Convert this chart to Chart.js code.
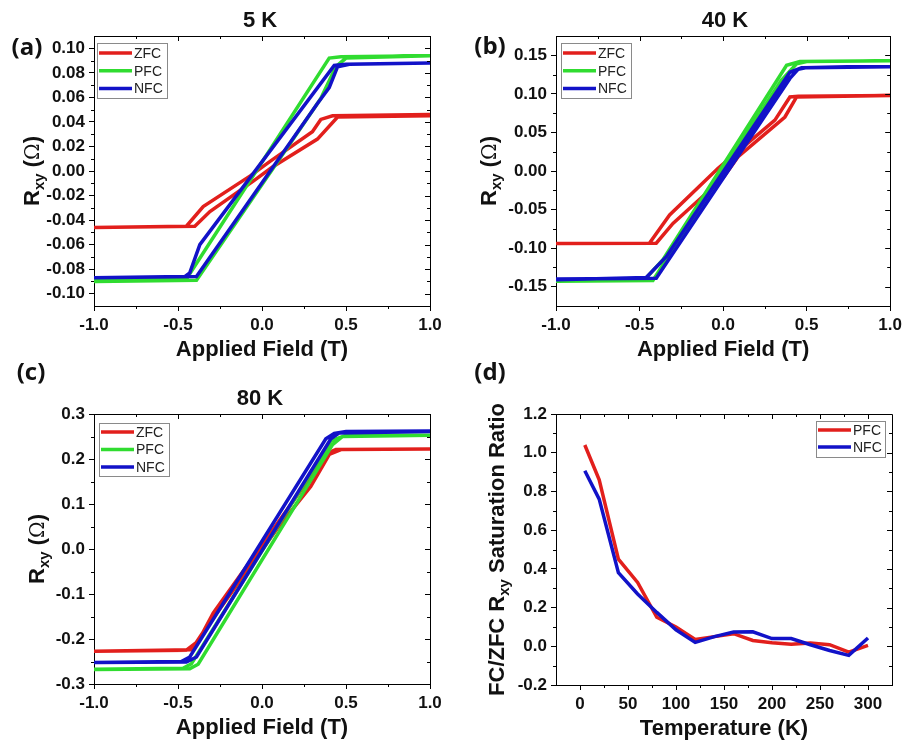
<!DOCTYPE html>
<html>
<head>
<meta charset="utf-8">
<title>Rxy hysteresis loops</title>
<script src="https://cdn.jsdelivr.net/npm/chart.js@4.4.1/dist/chart.umd.min.js"></script>
<style>
  body { margin: 0; background: #fff; }
  #wrap { position: relative; width: 906px; height: 742px; overflow: hidden; }
  .panel { position: absolute; width: 453px; height: 371px; }
  .letter { position: absolute; font: bold 24px "Open Sans", "Liberation Sans", sans-serif; color: #111; line-height: 1; transform: translate(-50%, -50%); }
</style>
</head>
<body>
<div id="wrap">
  <div class="panel" style="left:0;top:0"><canvas id="chart-a" width="453" height="371"></canvas></div>
  <div class="panel" style="left:453px;top:0"><canvas id="chart-b" width="453" height="371"></canvas></div>
  <div class="panel" style="left:0;top:371px"><canvas id="chart-c" width="453" height="371"></canvas></div>
  <div class="panel" style="left:453px;top:371px"><canvas id="chart-d" width="453" height="371"></canvas></div>
  <div class="letter" style="left:27px;top:46px">(a)</div>
  <div class="letter" style="left:490px;top:45px">(b)</div>
  <div class="letter" style="left:31px;top:371px">(c)</div>
  <div class="letter" style="left:490px;top:371px">(d)</div>
</div>
<script>
// Colours / fonts
const RED = '#e21f1c';
const GREEN = '#30dc30';
const BLUE = '#1212c8';
const FONT = '"Liberation Sans", Arial, sans-serif';

// Tick labels (ascending)
const fieldTicks = ['-1.0', '-0.5', '0.0', '0.5', '1.0'];
const rxyTicks5 = ['-0.10', '-0.08', '-0.06', '-0.04', '-0.02', '0.00', '0.02', '0.04', '0.06', '0.08', '0.10'];
const rxyTicks40 = ['-0.15', '-0.10', '-0.05', '0.00', '0.05', '0.10', '0.15'];
const rxyTicks80 = ['-0.3', '-0.2', '-0.1', '0.0', '0.1', '0.2', '0.3'];
const tempTicks = ['0', '50', '100', '150', '200', '250', '300'];
const ratioTicks = ['-0.2', '0.0', '0.2', '0.4', '0.6', '0.8', '1.0', '1.2'];

// 5 K loops (field swept -1 -> +1 -> -1), Rxy in ohm
const field5Zfc = [-1, -0.40, -0.31, -0.05, 0.06, 0.33, 0.45, 1, 1, 0.42, 0.35, 0.30, 0.05, -0.07, -0.35, -0.45, -1];
const rxy5Zfc = [-0.046, -0.045, -0.033, -0.008, 0.003, 0.026, 0.044, 0.045, 0.046, 0.045, 0.042, 0.032, 0.008, -0.004, -0.029, -0.045, -0.046];
const field5Pfc = [-1, -0.39, 0.35, 0.44, 0.50, 1, 1, 0.47, 0.40, -0.45, -1];
const rxy5Pfc = [-0.090, -0.089, 0.059, 0.085, 0.092, 0.094, 0.094, 0.093, 0.092, -0.088, -0.089];
const field5Nfc = [-1, -0.39, 0.33, 0.40, 0.45, 0.52, 1, 1, 0.50, 0.43, -0.37, -0.43, -0.46, -1];
const rxy5Nfc = [-0.087, -0.086, 0.055, 0.068, 0.085, 0.087, 0.088, 0.088, 0.087, 0.086, -0.060, -0.083, -0.086, -0.087];

// 40 K loops
const field40Zfc = [-1, -0.40, -0.30, 0.00, 0.09, 0.37, 0.44, 1, 1, 0.45, 0.40, 0.31, -0.03, -0.32, -0.44, -1];
const rxy40Zfc = [-0.094, -0.0935, -0.068, -0.009, 0.0185, 0.070, 0.096, 0.098, 0.098, 0.097, 0.096, 0.066, 0.0035, -0.057, -0.0935, -0.094];
const field40Pfc = [-1, -0.42, 0.35, 0.44, 0.50, 1, 1, 0.46, 0.38, -0.36, -0.47, -1];
const rxy40Pfc = [-0.143, -0.142, 0.118, 0.139, 0.142, 0.143, 0.143, 0.142, 0.137, -0.115, -0.141, -0.143];
const field40Nfc = [-1, -0.40, 0.40, 0.45, 0.50, 1, 1, 0.47, 0.40, -0.34, -0.46, -1];
const rxy40Nfc = [-0.140, -0.139, 0.120, 0.132, 0.134, 0.135, 0.135, 0.134, 0.128, -0.111, -0.138, -0.141];

// 80 K loops
const field80Zfc = [-1, -0.42, -0.36, 0.10, 0.29, 0.40, 0.47, 1, 1, 0.44, 0.39, -0.29, -0.38, -0.45, -1];
const rxy80Zfc = [-0.227, -0.224, -0.190, 0.050, 0.139, 0.210, 0.221, 0.222, 0.222, 0.221, 0.213, -0.142, -0.205, -0.225, -0.227];
const field80Pfc = [-1, -0.43, -0.38, 0.42, 0.48, 1, 1, 0.50, 0.41, -0.42, -0.47, -1];
const rxy80Pfc = [-0.268, -0.266, -0.256, 0.232, 0.250, 0.253, 0.253, 0.253, 0.240, -0.255, -0.265, -0.267];
const field80Nfc = [-1, -0.45, -0.39, 0.41, 0.46, 1, 1, 0.50, 0.43, 0.38, -0.43, -0.48, -1];
const rxy80Nfc = [-0.252, -0.251, -0.240, 0.245, 0.258, 0.261, 0.262, 0.261, 0.257, 0.245, -0.240, -0.250, -0.252];

// Saturation ratio vs temperature
const temps = [5, 20, 40, 60, 80, 100, 120, 140, 160, 180, 200, 220, 240, 260, 280, 300];
const pfcRatio = [1.04, 0.86, 0.45, 0.33, 0.15, 0.10, 0.035, 0.05, 0.065, 0.03, 0.018, 0.01, 0.017, 0.008, -0.03, 0.005];
const nfcRatio = [0.907, 0.76, 0.38, 0.27, 0.175, 0.085, 0.02, 0.05, 0.074, 0.075, 0.04, 0.04, 0.008, -0.022, -0.047, 0.043];

const xy = (xs, ys) => xs.map((x, i) => ({ x: x, y: ys[i] }));

function series(label, color, xs, ys, order) {
    return {
        label: label,
        data: xy(xs, ys),
        borderColor: color,
        backgroundColor: color,
        borderWidth: 3.5,
        pointRadius: 0,
        pointHoverRadius: 0,
        showLine: true,
        tension: 0,
        order: order
    };
}

function axis(labels, min, max, pos, size) {
    return {
        type: 'linear',
        position: pos,
        min: min,
        max: max,
        afterBuildTicks: s => { s.ticks = labels.map(l => ({ value: Number(l) })); },
        afterFit: s => { if (pos === 'left') s.width = size; else s.height = size; },
        ticks: {
            callback: (v, i) => labels[i],
            autoSkip: false,
            maxRotation: 0,
            color: '#111',
            padding: 4,
            font: { family: FONT, size: 17, weight: 'bold' }
        },
        grid: { drawOnChartArea: false, drawTicks: true, tickLength: 5, color: '#000', lineWidth: 1 },
        border: { display: true, color: '#000', width: 1 }
    };
}

// minor ticks sit halfway between major ones
function minorValues(labels, min, max) {
    const v = labels.map(Number);
    const step = v[1] - v[0];
    const out = [];
    for (let m = v[0] - step / 2; m < max - 1e-9; m += step) {
        if (m > min + 1e-9) out.push(m);
    }
    return out;
}

function drawYTitle(ctx, parts, cx, cy) {
    ctx.save();
    ctx.translate(cx, cy);
    ctx.rotate(-Math.PI / 2);
    ctx.textAlign = 'left';
    ctx.textBaseline = 'alphabetic';
    let total = 0;
    parts.forEach(p => { ctx.font = p.font; p.w = ctx.measureText(p.text).width; total += p.w; });
    let x = -total / 2;
    parts.forEach(p => {
        ctx.font = p.font;
        ctx.fillText(p.text, x, 8 + (p.dy || 0));
        x += p.w;
    });
    ctx.restore();
}

const decor = {
    id: 'decor',
    afterDraw(chart, args, o) {
        const { ctx, chartArea: a } = chart;
        const sx = chart.scales.x, sy = chart.scales.y;
        ctx.save();
        ctx.strokeStyle = '#000';
        ctx.lineWidth = 1;
        // top and right frame
        ctx.beginPath();
        ctx.moveTo(Math.round(a.left) + 0.5, Math.round(a.top) + 0.5);
        ctx.lineTo(Math.round(a.right) + 0.5, Math.round(a.top) + 0.5);
        ctx.lineTo(Math.round(a.right) + 0.5, Math.round(a.bottom) + 0.5);
        ctx.stroke();
        // ticks: left/bottom outward (minor only, majors come from the scales), top/right inward
        ctx.beginPath();
        o.xMajor.map(Number).forEach(v => {
            const px = Math.round(sx.getPixelForValue(v)) + 0.5;
            ctx.moveTo(px, a.top); ctx.lineTo(px, a.top + 5);
        });
        o.yMajor.map(Number).forEach(v => {
            const py = Math.round(sy.getPixelForValue(v)) + 0.5;
            ctx.moveTo(a.right, py); ctx.lineTo(a.right - 5, py);
        });
        minorValues(o.xMajor, sx.min, sx.max).forEach(v => {
            const px = Math.round(sx.getPixelForValue(v)) + 0.5;
            ctx.moveTo(px, a.top); ctx.lineTo(px, a.top + 3);
            ctx.moveTo(px, a.bottom); ctx.lineTo(px, a.bottom + 3);
        });
        minorValues(o.yMajor, sy.min, sy.max).forEach(v => {
            const py = Math.round(sy.getPixelForValue(v)) + 0.5;
            ctx.moveTo(a.right, py); ctx.lineTo(a.right - 3, py);
            ctx.moveTo(a.left, py); ctx.lineTo(a.left - 3, py);
        });
        ctx.stroke();

        ctx.fillStyle = '#111';
        // panel title
        if (o.title) {
            ctx.font = 'bold 22px ' + FONT;
            ctx.textAlign = 'center';
            ctx.textBaseline = 'middle';
            ctx.fillText(o.title, o.titleX, o.titleY);
        }
        // x axis title
        ctx.font = 'bold 22px ' + FONT;
        ctx.textAlign = 'center';
        ctx.textBaseline = 'middle';
        ctx.fillText(o.xTitle, (a.left + a.right) / 2, a.bottom + o.xTitleDy);
        // y axis title with subscript
        drawYTitle(ctx, o.yTitle, o.yTitleX, (a.top + a.bottom) / 2);

        // legend box
        const L = o.legend;
        ctx.strokeStyle = '#8a8a8a';
        ctx.strokeRect(L.left + 0.5, L.top + 0.5, L.width, L.height);
        ctx.font = '14px ' + FONT;
        ctx.textAlign = 'left';
        ctx.textBaseline = 'middle';
        chart.data.datasets.forEach((ds, i) => {
            const ry = L.firstRow + i * L.rowGap;
            ctx.strokeStyle = ds.borderColor;
            ctx.lineWidth = 3.5;
            ctx.beginPath();
            ctx.moveTo(L.left + 2, ry); ctx.lineTo(L.left + 35, ry);
            ctx.stroke();
            ctx.fillStyle = '#222';
            ctx.fillText(ds.label, L.left + 37, ry + 1);
        });
        ctx.restore();
    }
};

const rxyTitle = [
    { text: 'R', font: 'bold 22px ' + FONT },
    { text: 'xy', font: 'bold 15px ' + FONT, dy: 5 },
    { text: ' (', font: 'bold 22px ' + FONT },
    { text: 'Ω', font: '20px "DejaVu Serif", serif' },
    { text: ')', font: 'bold 22px ' + FONT }
];

function makeChart(id, datasets, cfg) {
    return new Chart(document.getElementById(id), {
        type: 'scatter',
        data: { datasets: datasets },
        plugins: [decor],
        options: {
            responsive: false,
            animation: false,
            events: [],
            layout: { padding: cfg.padding },
            scales: {
                x: axis(cfg.xTicks, cfg.xMin, cfg.xMax, 'bottom', cfg.xHeight),
                y: axis(cfg.yTicks, cfg.yMin, cfg.yMax, 'left', cfg.yWidth)
            },
            plugins: {
                legend: { display: false },
                tooltip: { enabled: false },
                decor: {
                    title: cfg.title, titleX: cfg.titleX, titleY: cfg.titleY,
                    xTitle: cfg.xTitle, xTitleDy: 44,
                    yTitle: cfg.yTitle, yTitleX: cfg.yTitleX,
                    xMajor: cfg.xTicks, yMajor: cfg.yTicks,
                    legend: cfg.legend
                }
            }
        }
    });
}

makeChart('chart-a', [
    series('ZFC', RED, field5Zfc, rxy5Zfc, 2),
    series('PFC', GREEN, field5Pfc, rxy5Pfc, 1),
    series('NFC', BLUE, field5Nfc, rxy5Nfc, 0)
], {
    padding: { left: 0, top: 36, right: 23, bottom: 0 }, yWidth: 94, xHeight: 65,
    xTicks: fieldTicks, xMin: -1, xMax: 1, yTicks: rxyTicks5, yMin: -0.11, yMax: 0.11,
    title: '5 K', titleX: 260, titleY: 21,
    xTitle: 'Applied Field (T)', yTitle: rxyTitle, yTitleX: 31,
    legend: { left: 97, top: 43, width: 70, height: 55, firstRow: 53, rowGap: 17.7 }
});

makeChart('chart-b', [
    series('ZFC', RED, field40Zfc, rxy40Zfc, 2),
    series('PFC', GREEN, field40Pfc, rxy40Pfc, 1),
    series('NFC', BLUE, field40Nfc, rxy40Nfc, 0)
], {
    padding: { left: 0, top: 36, right: 14, bottom: 0 }, yWidth: 103, xHeight: 65,
    xTicks: fieldTicks, xMin: -1, xMax: 1, yTicks: rxyTicks40, yMin: -0.175, yMax: 0.175,
    title: '40 K', titleX: 272, titleY: 21,
    xTitle: 'Applied Field (T)', yTitle: rxyTitle, yTitleX: 35,
    legend: { left: 108, top: 43, width: 70, height: 55, firstRow: 53, rowGap: 17.7 }
});

makeChart('chart-c', [
    series('ZFC', RED, field80Zfc, rxy80Zfc, 2),
    series('PFC', GREEN, field80Pfc, rxy80Pfc, 1),
    series('NFC', BLUE, field80Nfc, rxy80Nfc, 0)
], {
    padding: { left: 0, top: 43, right: 23, bottom: 0 }, yWidth: 94, xHeight: 58,
    xTicks: fieldTicks, xMin: -1, xMax: 1, yTicks: rxyTicks80, yMin: -0.3, yMax: 0.3,
    title: '80 K', titleX: 260, titleY: 28,
    xTitle: 'Applied Field (T)', yTitle: rxyTitle, yTitleX: 36,
    legend: { left: 99, top: 52, width: 70, height: 53, firstRow: 61, rowGap: 17.5 }
});

makeChart('chart-d', [
    series('PFC', RED, temps, pfcRatio, 1),
    series('NFC', BLUE, temps, nfcRatio, 0)
], {
    padding: { left: 0, top: 43, right: 14, bottom: 0 }, yWidth: 103, xHeight: 57,
    xTicks: tempTicks, xMin: -25, xMax: 325, yTicks: ratioTicks, yMin: -0.2, yMax: 1.2,
    title: '', xTitle: 'Temperature (K)', yTitleX: 43,
    yTitle: [
        { text: 'FC/ZFC R', font: 'bold 22px ' + FONT },
        { text: 'xy', font: 'bold 15px ' + FONT, dy: 5 },
        { text: ' Saturation Ratio', font: 'bold 22px ' + FONT }
    ],
    legend: { left: 363, top: 50, width: 69, height: 36, firstRow: 59, rowGap: 17 }
});
</script>
</body>
</html>
